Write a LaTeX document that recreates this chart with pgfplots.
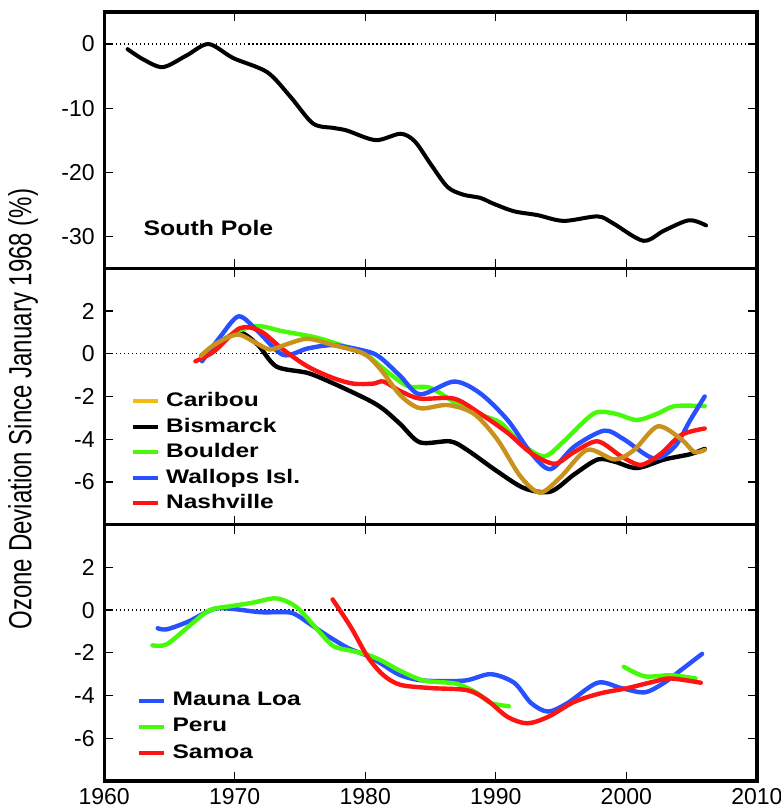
\documentclass[border=0pt]{standalone}
\usepackage{fontspec}
\setmainfont{Liberation Sans}
\newfontfamily\legfont[FakeStretch=1.25]{Liberation Sans}
\newfontfamily\spfont[FakeStretch=1.18]{Liberation Sans}
\newfontfamily\labfont[FakeStretch=0.75]{Liberation Sans}
\usepackage{pgfplots}
\pgfplotsset{compat=1.18}
\usepgfplotslibrary{groupplots}

\definecolor{cariboul}{RGB}{200,146,28}
\definecolor{caribouleg}{RGB}{245,185,20}
\definecolor{ozgreen}{RGB}{70,250,10}
\definecolor{ozblue}{RGB}{40,80,255}
\definecolor{ozred}{RGB}{255,20,20}

\pgfplotsset{
  zeroline/.style={forget plot, line width=0.6pt, dash pattern=on 0.6pt off 1.4pt},
  ser/.style={forget plot, smooth, line width=2.2pt, line cap=round},
  legbox/.style={
    legend style={draw=none, fill=none, inner sep=0pt, row sep=#1, column sep=2pt,
      font=\legfont\bfseries\fontsize{9.8}{11}\selectfont,
      nodes={inner sep=1.2pt, text height=7.3pt, text depth=2pt}},
    legend cell align=left,
    legend image code/.code={\draw[##1] (0pt,0pt) -- (12.5pt,0pt);}
  }
}

\begin{document}
\begin{tikzpicture}
\begin{groupplot}[
  group style={group size=1 by 3, vertical sep=0pt},
  scale only axis, width=326pt, height=128pt,
  xmin=1960, xmax=2010,
  xtick={1960,1970,...,2010},
  axis line style={line width=1.6pt},
  tick style={line width=0.6pt, black},
  major tick length=4.5pt,
  tick align=inside,
  xtick pos=both, ytick pos=both,
  xticklabel pos=lower, yticklabel pos=left,
  tick label style={font=\fontsize{11.5}{13}\selectfont},
  yticklabel style={xshift=-1.2pt},
]

% South Pole
\nextgroupplot[ymin=-35, ymax=5, ytick={-30,-20,-10,0}, yticklabels={-30,-20,-10,0}, xticklabels={}]
\addplot[zeroline] coordinates {(1960,0) (2010,0)};
\addplot[ser, line width=2pt, black] coordinates {
  (1961.8,-0.8) (1963.0,-2.4) (1964.5,-3.6) (1966.3,-1.8) (1968.0,0.0)
  (1969.9,-2.2) (1972.5,-4.4) (1974.3,-8.3) (1976.0,-12.4) (1977.6,-13.1)
  (1978.6,-13.5) (1980.8,-15.0) (1982.7,-14.0) (1983.8,-15.2) (1985.0,-18.7)
  (1986.3,-22.3) (1987.5,-23.5) (1988.8,-24.0) (1989.8,-24.9) (1991.4,-26.1)
  (1993.2,-26.7) (1995.2,-27.6) (1997.8,-26.9) (1999.0,-28.0) (2001.3,-30.7)
  (2002.9,-29.1) (2004.8,-27.5) (2006.1,-28.3)
};
\node[anchor=west, inner sep=0pt, font=\spfont\bfseries\fontsize{10.5}{12}\selectfont] at (axis cs:1963,-28.7) {South Pole};

% Northern mid-latitude stations
\nextgroupplot[ymin=-8, ymax=4, ytick={-6,-4,-2,0,2}, yticklabels={-6,-4,-2,0,2}, xticklabels={},
  legbox=1pt, legend style={at={(rel axis cs:0.04,0.528)}, anchor=north west},
  ylabel={\labfont\fontsize{16}{19}\selectfont Ozone Deviation Since January 1968 (\%)},
  y label style={at={(rel axis cs:-0.1242,0.451)}, anchor=center}]
\addlegendimage{line width=2pt, caribouleg}
\addlegendentry{Caribou}
\addlegendimage{line width=2pt, black}
\addlegendentry{Bismarck}
\addlegendimage{line width=2pt, ozgreen}
\addlegendentry{Boulder}
\addlegendimage{line width=2pt, ozblue}
\addlegendentry{Wallops Isl.}
\addlegendimage{line width=2pt, ozred}
\addlegendentry{Nashville}
\addplot[zeroline] coordinates {(1960,0) (2010,0)};
% Bismarck
\addplot[ser, black] coordinates {
  (1967.9,0.0) (1969.0,0.6) (1970.4,1.0) (1971.8,0.4) (1973.2,-0.6)
  (1975.6,-0.9) (1977.6,-1.4) (1980.2,-2.15) (1981.4,-2.6) (1982.7,-3.3)
  (1984.2,-4.15) (1986.5,-4.1) (1987.8,-4.5) (1990.1,-5.5) (1992.2,-6.3)
  (1994.2,-6.45) (1996.0,-5.65) (1997.8,-4.95) (1999.1,-5.05) (2000.8,-5.35)
  (2002.9,-4.95) (2004.9,-4.7) (2006.0,-4.45)
};
% Boulder
\addplot[ser, ozgreen] coordinates {
  (1967.6,-0.05) (1969.9,0.95) (1971.7,1.3) (1973.7,1.05) (1976.3,0.75)
  (1978.9,0.25) (1980.2,-0.1) (1981.2,-0.6) (1983.2,-1.5) (1985.0,-1.6)
  (1987.3,-2.45) (1988.8,-2.85) (1990.4,-3.25) (1991.9,-4.2) (1993.7,-4.8)
  (1995.2,-4.1) (1997.5,-2.8) (1999.1,-2.8) (2000.8,-3.1) (2002.4,-2.8)
  (2003.7,-2.45) (2006.0,-2.45)
};
% Wallops Isl.
\addplot[ser, ozblue] coordinates {
  (1967.5,-0.35) (1968.9,0.8) (1970.3,1.75) (1971.7,1.1) (1973.7,-0.05)
  (1975.6,0.25) (1977.6,0.4) (1980.2,0.1) (1981.2,-0.2) (1982.7,-1.05)
  (1984.2,-1.9) (1986.8,-1.3) (1988.8,-1.85) (1990.9,-3.1) (1992.7,-4.65)
  (1994.2,-5.4) (1996.0,-4.35) (1998.3,-3.6) (1999.8,-4.0) (2002.1,-4.9)
  (2003.7,-4.35) (2004.9,-3.1) (2006.0,-2.0)
};
% Nashville
\addplot[ser, ozred] coordinates {
  (1967.0,-0.35) (1968.4,0.1) (1970.4,1.2) (1972.0,1.05) (1973.7,0.2)
  (1975.6,-0.6) (1977.6,-1.15) (1979.1,-1.4) (1980.6,-1.4) (1981.4,-1.3)
  (1982.7,-1.75) (1984.2,-2.1) (1986.8,-2.1) (1988.8,-2.8) (1990.9,-3.7)
  (1992.7,-4.65) (1994.5,-5.15) (1996.0,-4.6) (1997.8,-4.1) (1999.6,-4.8)
  (2001.1,-5.2) (2002.6,-4.7) (2004.2,-3.8) (2006.0,-3.5)
};
% Caribou
\addplot[ser, cariboul] coordinates {
  (1967.4,-0.1) (1968.5,0.45) (1970.2,0.9) (1971.5,0.55) (1972.7,0.2)
  (1974.0,0.45) (1975.6,0.7) (1977.6,0.4) (1979.9,0.0) (1981.2,-0.75)
  (1982.7,-1.95) (1984.2,-2.55) (1986.3,-2.4) (1988.3,-2.8) (1990.1,-4.0)
  (1991.9,-5.75) (1993.4,-6.5) (1995.0,-5.75) (1997.0,-4.5) (1999.1,-4.95)
  (2000.6,-4.5) (2002.4,-3.4) (2004.2,-4.0) (2005.2,-4.6) (2006.0,-4.5)
};

% Tropical stations
\nextgroupplot[ymin=-8, ymax=4, ytick={-6,-4,-2,0,2}, yticklabels={-6,-4,-2,0,2},
  xticklabels={1960,1970,1980,1990,2000,2010},
  legbox=1.35pt, legend style={at={(rel axis cs:0.05,0.361)}, anchor=north west}]
\addlegendimage{line width=2pt, ozblue}
\addlegendentry{Mauna Loa}
\addlegendimage{line width=2pt, ozgreen}
\addlegendentry{Peru}
\addlegendimage{line width=2pt, ozred}
\addlegendentry{Samoa}
\addplot[zeroline] coordinates {(1960,0) (2010,0)};
% Mauna Loa
\addplot[ser, ozblue] coordinates {
  (1964.1,-0.85) (1964.8,-0.9) (1966.4,-0.55) (1968.4,0.05) (1969.9,0.05)
  (1972.0,-0.1) (1974.0,-0.1) (1974.8,-0.25) (1976.6,-1.0) (1978.6,-1.75)
  (1980.2,-2.15) (1981.2,-2.5) (1982.7,-3.05) (1984.5,-3.3) (1987.6,-3.3)
  (1989.6,-3.0) (1991.4,-3.4) (1992.7,-4.35) (1994.0,-4.75) (1995.5,-4.35)
  (1997.8,-3.4) (1999.6,-3.65) (2001.4,-3.85) (2002.9,-3.4) (2004.2,-2.8)
  (2005.8,-2.05)
};
% Peru
\addplot[ser, ozgreen] coordinates {
  (1963.7,-1.65) (1964.8,-1.6) (1966.6,-0.7) (1968.1,0.0) (1969.9,0.2)
  (1971.4,0.35) (1973.0,0.55) (1974.0,0.4) (1975.0,0.0) (1976.6,-1.1)
  (1977.6,-1.7) (1978.9,-1.9) (1980.2,-2.1) (1981.2,-2.35) (1982.7,-2.85)
  (1984.5,-3.3) (1987.0,-3.45) (1988.6,-3.9) (1989.6,-4.35) (1991.0,-4.5)
};
\addplot[ser, ozgreen] coordinates {
  (1999.8,-2.65) (2001.4,-3.1) (2003.4,-3.05) (2005.3,-3.2)
};
% Samoa
\addplot[ser, ozred] coordinates {
  (1977.5,0.5) (1978.9,-0.8) (1980.2,-2.2) (1981.4,-3.05) (1982.7,-3.5)
  (1985.0,-3.65) (1987.8,-3.75) (1989.3,-4.2) (1990.9,-5.0) (1992.4,-5.3)
  (1994.0,-5.0) (1996.0,-4.3) (1998.0,-3.9) (2000.1,-3.65) (2002.1,-3.35)
  (2003.4,-3.2) (2005.7,-3.4)
};
\end{groupplot}
\pgfresetboundingbox
\path[use as bounding box] ([xshift=-52pt,yshift=6pt]group c1r1.north west) rectangle ([xshift=12pt,yshift=-13pt]group c1r3.south east);
\end{tikzpicture}
\end{document}
